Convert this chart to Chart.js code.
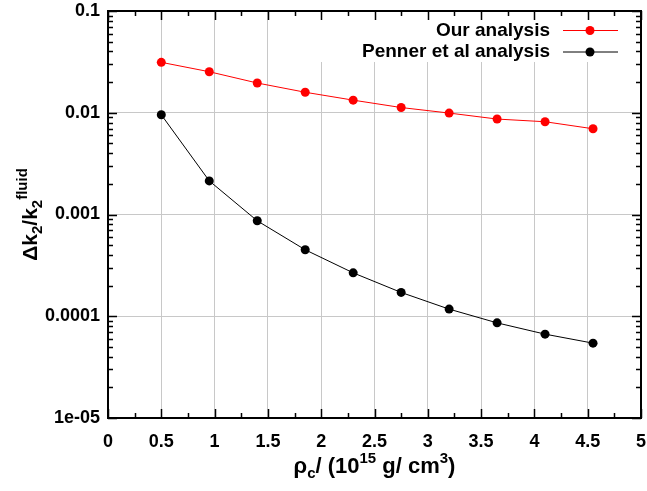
<!DOCTYPE html>
<html>
<head>
<meta charset="utf-8">
<script src="https://cdn.jsdelivr.net/npm/chart.js@4.4.1/dist/chart.umd.min.js"></script>
<style>
  html, body { margin: 0; padding: 0; background: #fff; }
  canvas { display: block; }
</style>
</head>
<body>
<canvas id="myChart" width="647" height="491"></canvas>
<script>
// data
const xValues = [0.5, 0.95, 1.4, 1.85, 2.3, 2.75, 3.2, 3.65, 4.1, 4.55];
const ourAnalysis = [0.0313, 0.0253, 0.0196, 0.0159, 0.0133, 0.01125, 0.00993, 0.00867, 0.00816, 0.00696];
const pennerAnalysis = [0.00955, 0.00214, 0.000867, 0.000450, 0.000267, 0.0001714, 0.0001175, 0.0000861, 0.0000667, 0.0000544];
const seriesNames = ['Our analysis', 'Penner et al analysis'];
const seriesColors = ['#ff0000', '#000000'];
const yTickValues = [1e-5, 1e-4, 1e-3, 1e-2, 1e-1];
const yTickLabels = ['1e-05', '0.0001', '0.001', '0.01', '0.1'];
const xTickLabels = ['0', '0.5', '1', '1.5', '2', '2.5', '3', '3.5', '4', '4.5', '5'];
const xMinorStep = 0.25;

const FONT = '"Liberation Sans", Arial, sans-serif';

function toPoints(values) {
    return xValues.map((x, i) => ({ x: x, y: values[i] }));
}

// draws text with sub/superscripts, parts = [[text, kind]] kind 0 normal, 1 sub, 2 sup
function drawRich(ctx, parts, cx, baseline, size) {
    const big = 'bold ' + size + 'px ' + FONT;
    const small = 'bold ' + Math.round(size * 0.7) + 'px ' + FONT;
    let total = 0;
    parts.forEach(p => {
        ctx.font = p[1] ? small : big;
        total += ctx.measureText(p[0]).width;
    });
    let x = cx - total / 2;
    ctx.textAlign = 'left';
    ctx.textBaseline = 'alphabetic';
    parts.forEach(p => {
        ctx.font = p[1] ? small : big;
        const dy = p[1] === 1 ? 5 : (p[1] === 2 ? -10 : 0);
        ctx.fillText(p[0], x, baseline + dy);
        x += ctx.measureText(p[0]).width;
    });
}

const gnuplotLook = {
    id: 'gnuplotLook',
    beforeDatasetsDraw(chart) {
        // key box hides the grid behind it
        const ctx = chart.ctx;
        const a = chart.chartArea;
        ctx.save();
        ctx.fillStyle = '#fff';
        ctx.fillRect(300, a.top + 1, a.right - 301, 50);
        ctx.restore();
    },
    afterDraw(chart) {
        const ctx = chart.ctx;
        const a = chart.chartArea;
        const xs = chart.scales.x;
        const ys = chart.scales.y;
        ctx.save();
        ctx.strokeStyle = '#000';
        ctx.lineWidth = 1.5;
        ctx.beginPath();
        // x ticks, bottom and top
        for (let v = 0; v <= 5.0001; v += xMinorStep) {
            const px = Math.round(xs.getPixelForValue(v)) + 0.5;
            const len = Math.abs(v * 2 - Math.round(v * 2)) < 1e-6 ? 9 : 5;
            ctx.moveTo(px, a.bottom); ctx.lineTo(px, a.bottom - len);
            ctx.moveTo(px, a.top); ctx.lineTo(px, a.top + len);
        }
        // y ticks, left and right
        for (let e = -5; e <= -1; e++) {
            for (let m = 1; m <= 9; m++) {
                const v = m * Math.pow(10, e);
                if (v > 0.1 * 1.0001) break;
                const py = Math.round(ys.getPixelForValue(v)) + 0.5;
                const len = m === 1 ? 9 : 5;
                ctx.moveTo(a.left, py); ctx.lineTo(a.left + len, py);
                ctx.moveTo(a.right, py); ctx.lineTo(a.right - len, py);
            }
        }
        ctx.stroke();
        ctx.lineWidth = 2;
        ctx.strokeRect(a.left, a.top, a.right - a.left, a.bottom - a.top);

        // key
        chart.data.datasets.forEach((ds, i) => {
            const y = 30.5 + i * 21.5;
            ctx.fillStyle = '#000';
            ctx.font = 'bold 19px ' + FONT;
            ctx.textAlign = 'right';
            ctx.textBaseline = 'middle';
            ctx.fillText(ds.label, 550, y);
            ctx.strokeStyle = ds.borderColor;
            ctx.lineWidth = 1;
            ctx.beginPath();
            ctx.moveTo(563, y); ctx.lineTo(618, y);
            ctx.stroke();
            ctx.fillStyle = ds.backgroundColor;
            ctx.beginPath();
            ctx.arc(590, y, 4.5, 0, Math.PI * 2);
            ctx.fill();
        });

        // axis titles
        ctx.fillStyle = '#000';
        drawRich(ctx, [['\u03c1', 0], ['c', 1], ['/ (10', 0], ['15', 2], [' g/ cm', 0], ['3', 2], [')', 0]],
            (a.left + a.right) / 2, 473, 22);
        ctx.save();
        ctx.translate(37, (a.top + a.bottom) / 2);
        ctx.rotate(-Math.PI / 2);
        drawRich(ctx, [['\u0394k', 0], ['2', 1], ['/k', 0], ['2', 1], ['fluid', 2]], 0, 0, 21);
        ctx.restore();
        ctx.restore();
    }
};

const ctx = document.getElementById('myChart');

new Chart(ctx, {
    type: 'scatter',
    data: {
        datasets: [
            {
                label: seriesNames[0],
                data: toPoints(ourAnalysis),
                showLine: true,
                borderColor: seriesColors[0],
                backgroundColor: seriesColors[0],
                borderWidth: 1,
                pointRadius: 4.5,
                pointBorderWidth: 0
            },
            {
                label: seriesNames[1],
                data: toPoints(pennerAnalysis),
                showLine: true,
                borderColor: seriesColors[1],
                backgroundColor: seriesColors[1],
                borderWidth: 1,
                pointRadius: 4.5,
                pointBorderWidth: 0
            }
        ]
    },
    options: {
        responsive: false,
        animation: false,
        devicePixelRatio: 1,
        layout: {
            padding: { left: 0, top: 11, right: 6, bottom: 0 }
        },
        plugins: {
            legend: { display: false },
            tooltip: { enabled: false }
        },
        scales: {
            x: {
                type: 'linear',
                min: 0,
                max: 5,
                ticks: {
                    stepSize: 0.5,
                    color: '#000',
                    padding: 13,
                    maxRotation: 0,
                    font: { family: FONT, weight: 'bold', size: 18 },
                    callback: function(value, index) {
                        return xTickLabels[index];
                    }
                },
                grid: {
                    color: '#c8c8c8',
                    lineWidth: 1,
                    drawTicks: false
                },
                border: { display: false },
                afterFit(scale) {
                    scale.height = 73;
                    scale.paddingLeft = 0;
                    scale.paddingRight = 0;
                }
            },
            y: {
                type: 'logarithmic',
                min: 1e-5,
                max: 0.1,
                afterBuildTicks(scale) {
                    scale.ticks = yTickValues.map(v => ({ value: v }));
                },
                ticks: {
                    color: '#000',
                    padding: 8,
                    font: { family: FONT, weight: 'bold', size: 18 },
                    callback: function(value) {
                        const i = yTickValues.findIndex(v => Math.abs(v - value) / v < 1e-6);
                        return i >= 0 ? yTickLabels[i] : '';
                    }
                },
                grid: {
                    color: '#c8c8c8',
                    lineWidth: 1,
                    drawTicks: false
                },
                border: { display: false },
                afterFit(scale) {
                    scale.width = 108;
                    scale.paddingTop = 0;
                    scale.paddingBottom = 0;
                }
            }
        }
    },
    plugins: [gnuplotLook]
});
</script>
</body>
</html>
